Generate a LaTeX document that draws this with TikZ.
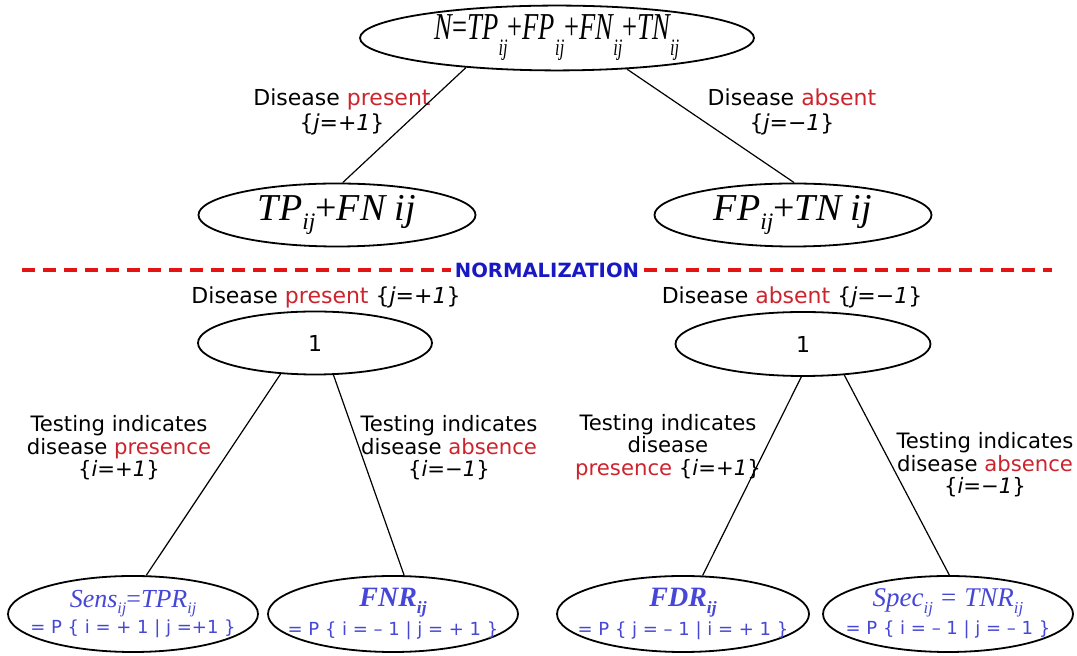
\documentclass[tikz,border=0pt]{standalone}
\usepackage{fontspec}
\usepackage{graphicx}
\usetikzlibrary{shapes.geometric}
\newfontfamily\labfont{DejaVu Sans}
\newfontfamily\frmfont{Liberation Serif}
\newfontfamily\frmnarrow[FakeStretch=0.7]{Liberation Serif}
\definecolor{labred}{RGB}{205,35,45}
\definecolor{dashred}{RGB}{228,20,20}
\definecolor{normblue}{RGB}{25,25,195}
\definecolor{rateblue}{RGB}{70,70,215}
\newcommand\lsub[2][.25em]{\raisebox{-#1}{\scalebox{.62}{#2}}}
\newcommand\pr[1]{\textcolor{labred}{#1}}

\begin{document}
\begin{tikzpicture}[x=0.5pt, y=-0.5pt,
  oval/.style={ellipse, draw, line width=0.9pt, inner sep=0pt},
  lab/.style={font=\labfont\fontsize{11}{12.5}\selectfont, align=center, inner sep=0pt},
  testlab/.style={font=\labfont\fontsize{10.6}{11.3}\selectfont, align=center, inner sep=0pt},
  ratetxt/.style={text=rateblue, align=center, inner sep=0pt},
  edge/.style={line width=0.6pt},
  dashline/.style={dashred, line width=1.6pt, dash pattern=on 6.5pt off 4pt}]
  \useasboundingbox (0,0) rectangle (1077,656);

  \node[oval, minimum width=197pt, minimum height=31pt] (top) at (557,38)
    {\frmnarrow\itshape\fontsize{19}{21}\selectfont N{\upshape=}TP\lsub[.42em]{ij}{\upshape+}FP\lsub[.42em]{ij}{\upshape+}FN\lsub[.42em]{ij}{\upshape+}TN\lsub[.42em]{ij}};

  \node[lab] (dp1) at (342,112) {Disease \pr{present}\\\{\textit{j}=+\textit{1}\}};
  \node[lab] (da1) at (792,112) {Disease \pr{absent}\\\{\textit{j}=−\textit{1}\}};

  \node[oval, minimum width=138.5pt, minimum height=31.5pt] (tpfn) at (337,215)
    {\frmfont\itshape\fontsize{19}{21}\selectfont TP\lsub{ij}{\upshape+}FN ij};
  \node[oval, minimum width=138.5pt, minimum height=31.5pt] (fptn) at (793,215)
    {\frmfont\itshape\fontsize{19}{21}\selectfont FP\lsub{ij}{\upshape+}TN ij};

  \draw[edge] (top.198) -- (tpfn.80);
  \draw[edge] (top.336) -- (fptn.88);

  \coordinate (dl) at (22,270);
  \coordinate (dr) at (1052,270);
  \node[font=\labfont\bfseries\fontsize{9.8}{11}\selectfont, text=normblue, inner sep=2pt] (norm) at (547,270) {NORMALIZATION};
  \draw[dashline] (dl) -- (norm.west);
  \draw[dashline] (norm.east) -- (dr);

  \node[lab] (dp2) at (326,297) {Disease \pr{present} \{\textit{j}=+\textit{1}\}};
  \node[lab] (da2) at (792,297) {Disease \pr{absent} \{\textit{j}=−\textit{1}\}};

  \node[oval, minimum width=117pt, minimum height=31.5pt, font=\labfont\fontsize{11}{13}\selectfont] (oneL) at (315,343) {1};
  \node[oval, minimum width=127.5pt, minimum height=32pt, font=\labfont\fontsize{11}{13}\selectfont] (oneR) at (803,344) {1};

  \node[testlab] (tp1) at (119,448) {Testing indicates\\disease \pr{presence}\\\{\textit{i}=+\textit{1}\}};
  \node[testlab] (ta1) at (449,448) {Testing indicates\\disease \pr{absence}\\\{\textit{i}=−\textit{1}\}};
  \node[testlab] (tp2) at (668,447) {Testing indicates\\disease\\\pr{presence} \{\textit{i}=+\textit{1}\}};
  \node[testlab] (ta2) at (985,465) {Testing indicates\\disease \pr{absence}\\\{\textit{i}=−\textit{1}\}};

  \node[oval, minimum width=125pt, minimum height=38pt] (sens) at (133,614) {};
  \node[oval, minimum width=125pt, minimum height=38pt] (fnr) at (393,614) {};
  \node[oval, minimum width=126pt, minimum height=38pt] (fdr) at (683,614) {};
  \node[oval, minimum width=125pt, minimum height=38pt] (spec) at (948,614) {};

  \node[ratetxt] (senstxt) at (sens) {\frmfont\itshape\fontsize{13}{15}\selectfont Sens\lsub{ij}{\upshape=}TPR\lsub{ij}\\[1pt]\labfont\upshape\fontsize{9}{12}\selectfont = P \{ i = + 1 | j =+1 \}};
  \node[ratetxt] (fnrtxt) at (fnr) {\frmfont\bfseries\itshape\fontsize{14}{15}\selectfont FNR\lsub{ij}\\[1pt]\labfont\mdseries\upshape\fontsize{9}{12}\selectfont = P \{ i = – 1 | j = + 1 \}};
  \node[ratetxt] (fdrtxt) at (fdr) {\frmfont\bfseries\itshape\fontsize{14}{15}\selectfont FDR\lsub{ij}\\[1pt]\labfont\mdseries\upshape\fontsize{9}{12}\selectfont = P \{ j = – 1 | i = + 1 \}};
  \node[ratetxt] (spectxt) at (spec) {\frmfont\itshape\fontsize{13.5}{15}\selectfont Spec\lsub{ij}\hspace{.3em}{\upshape=}\hspace{.3em}TNR\lsub{ij}\\[1pt]\labfont\upshape\fontsize{9}{12}\selectfont = P \{ i = – 1 | j = – 1 \}};

  \draw[edge] (oneL.222) -- (sens.71);
  \draw[edge] (oneL.300) -- (fnr.74);
  \draw[edge] (oneR.267) -- (fdr.63);
  \draw[edge] (oneR.323) -- (spec.88);
\end{tikzpicture}
\end{document}
